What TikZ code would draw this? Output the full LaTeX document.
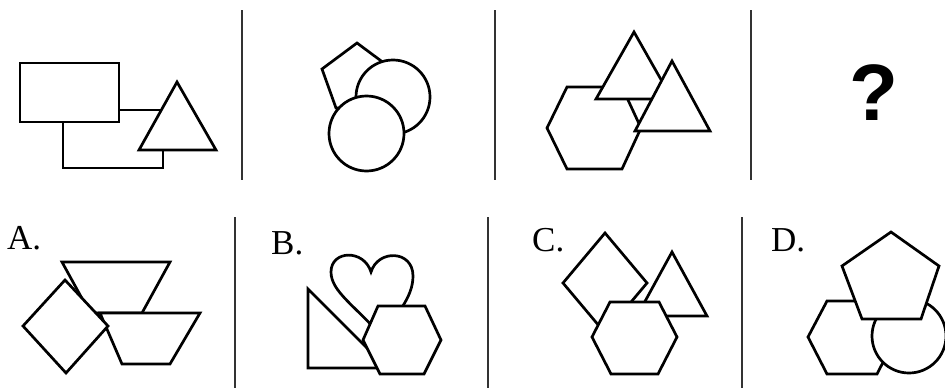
\documentclass[tikz,border=0pt]{standalone}
\usepackage{fontspec}
\setmainfont{Liberation Serif}
\newfontfamily\qfont{Liberation Sans}
\begin{document}
\begin{tikzpicture}[x=1pt,y=-1pt,
  shp/.style={draw=black,line width=2.7pt,fill=white,line join=miter},
  divider/.style={draw=black!80,line width=2.8pt},
  lab/.style={inner sep=0pt,anchor=north west,font=\fontsize{35}{38}\selectfont}]
\useasboundingbox (0,0) rectangle (945,388);
% dividers
\coordinate (d1a) at (242,10); \coordinate (d1b) at (242,180);
\coordinate (d2a) at (495,10); \coordinate (d2b) at (495,180);
\coordinate (d3a) at (751,10); \coordinate (d3b) at (751,180);
\coordinate (e1a) at (235,217); \coordinate (e1b) at (235,388);
\coordinate (e2a) at (488,217); \coordinate (e2b) at (488,388);
\coordinate (e3a) at (742,217); \coordinate (e3b) at (742,388);
\draw[divider] (d1a) -- (d1b);
\draw[divider] (d2a) -- (d2b);
\draw[divider] (d3a) -- (d3b);
\draw[divider] (e1a) -- (e1b);
\draw[divider] (e2a) -- (e2b);
\draw[divider] (e3a) -- (e3b);
% panel 1
\draw[shp] (63,110) rectangle (163,168);
\draw[shp] (20,63) rectangle (119,122);
\draw[shp] (177,82) -- (216,150) -- (139,150) -- cycle;
% panel 2
\draw[shp] (357,43) -- (392,69) -- (378,108) -- (336,108) -- (322,69) -- cycle;
\draw[shp] (393,97) circle[radius=37];
\draw[shp] (366.5,133.5) circle[radius=37.5];
% panel 3
\draw[shp] (547,128) -- (567,87) -- (622,87) -- (641,128) -- (622,169) -- (567,169) -- cycle;
\draw[shp] (634,32) -- (672,99) -- (596,99) -- cycle;
\draw[shp] (672,61) -- (710,131) -- (635,131) -- cycle;
% panel 4
\node[inner sep=0pt,font=\qfont\bfseries\fontsize{80}{84}\selectfont] (q) at (873.5,93) {?};
% A
\node[lab] (la) at (7,226) {A.};
\draw[shp] (62,262) -- (170,262) -- (142,313) -- (90,313) -- cycle;
\draw[shp] (100,313) -- (200,313) -- (170,364) -- (122,364) -- cycle;
\draw[shp] (65,280) -- (108,326) -- (66,373) -- (23,326) -- cycle;
% B
\node[lab] (lb) at (271,231) {B.};
\draw[shp] (308,289) -- (387,368) -- (308,368) -- cycle;
\draw[shp] (371,272) .. controls (364,249) and (331,250) .. (331,272)
  .. controls (331,292) and (357,307) .. (382,337)
  .. controls (396,314) and (413,298) .. (413,276)
  .. controls (413,250) and (378,249) .. (371,272) -- cycle;
\draw[shp] (378,306) -- (425,306) -- (441,340) -- (424,374) -- (380,374) -- (363,340) -- cycle;
% C
\node[lab] (lc) at (532,228) {C.};
\draw[shp] (605,233) -- (647,283) -- (605,333) -- (563,283) -- cycle;
\draw[shp] (672,252) -- (707,316) -- (637,316) -- cycle;
\draw[shp] (610,302) -- (659,302) -- (677,337) -- (658,374) -- (611,374) -- (592,337) -- cycle;
% D
\node[lab] (ld) at (771,228) {D.};
\draw[shp] (827,301) -- (877,301) -- (896,337) -- (877,374) -- (827,374) -- (808,337) -- cycle;
\draw[shp] (909,336) circle[radius=37];
\draw[shp] (891,232) -- (939,266) -- (921,319) -- (862,319) -- (842,266) -- cycle;
\end{tikzpicture}
\end{document}
